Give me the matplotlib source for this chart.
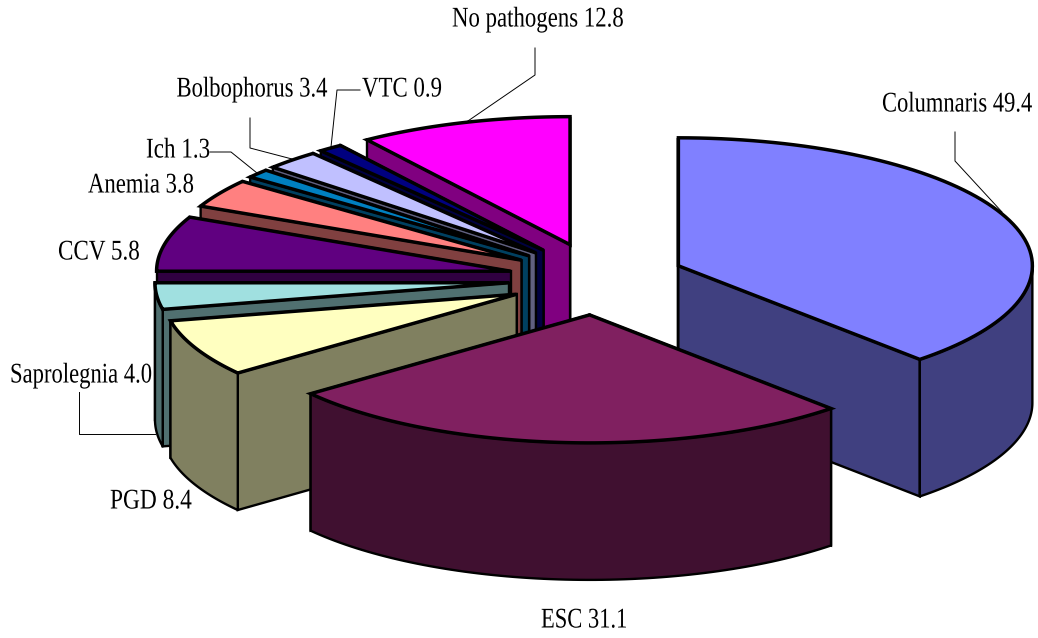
import numpy as np
import matplotlib
matplotlib.use("Agg")
import matplotlib.pyplot as plt
from matplotlib.patches import Polygon
from matplotlib.patheffects import AbstractPathEffect
from matplotlib.transforms import Affine2D

# Slices, clockwise from 12 o'clock
categories = ['Columnaris', 'ESC', 'PGD', 'Saprolegnia', 'CCV', 'Anemia', 'Ich',
              'Bolbophorus', 'VTC', 'No pathogens']
values = ['49.4', '31.1', '8.4', '4.0', '5.8', '3.8', '1.3', '3.4', '0.9', '12.8']
# Sweep of each slice in degrees as drawn in the picture (they do not follow the labels exactly)
sweeps = [137.0, 95.0, 26.0, 12.0, 25.0, 13.0, 4.0, 9.0, 4.0, 35.0]
top_colors = ['#8080FF', '#802060', '#FFFFC0', '#A0E0E0', '#600080', '#FF8080',
              '#0080C0', '#C0C0FF', '#000080', '#FF00FF']
side_colors = ['#404080', '#401030', '#808060', '#507070', '#300040', '#804040',
               '#004060', '#606080', '#000040', '#800080']

# Label anchor x, centre y, alignment, and the width the text should take
label_x = [1032, 584, 151, 10, 99, 141, 178, 252, 402, 538]
label_y = [105, 621, 502, 376, 253, 186, 151, 90, 90, 20]
label_ha = ['right', 'center', 'center', 'left', 'center', 'center', 'center', 'center', 'center', 'center']
label_w = [150, 86, 82, 142, 82, 106, 64, 151, 80, 172]

# Leader lines
leaders = [
    ([955, 955, 1002], [132, 161, 212]),
    ([535, 535, 465], [48, 75, 123]),
    ([250, 250, 292], [118, 148, 159]),
    ([360, 337, 331], [90, 90, 147]),
    ([210, 231, 257], [152, 152, 173]),
    ([79, 79, 155], [392, 434, 434]),
]

# Ellipse of the pie
cx, cy = 596.5, 279
rx, ry = 354, 128
explode_x, explode_y = 88, 36
depth = 137


class Squeeze(AbstractPathEffect):
    # the chart's text is set very tight, so narrow it around its anchor
    def __init__(self, factor, anchor):
        super().__init__()
        self.factor = factor
        self.anchor = anchor

    def draw_path(self, renderer, gc, tpath, affine, rgbFace=None):
        narrow = Affine2D().translate(-self.anchor, 0).scale(self.factor, 1).translate(self.anchor, 0)
        renderer.draw_path(gc, tpath, affine + narrow, rgbFace)


def rim(apex, a1, a2):
    t = np.radians(np.linspace(a1, a2, 80))
    return np.column_stack([apex[0] + rx * np.sin(t), apex[1] - ry * np.cos(t)])


fig = plt.figure(figsize=(10.38, 6.38), dpi=100)
ax = fig.add_axes([0, 0, 1, 1])
ax.set_xlim(0, 1038)
ax.set_ylim(638, 0)
ax.axis('off')

ends = np.cumsum(sweeps)
starts = ends - np.array(sweeps)
mids = np.radians((starts + ends) / 2)
apex_x = cx + explode_x * np.sin(mids)
apex_y = cy - explode_y * np.cos(mids)

# Paint from the back of the pie to the front
z = 2
for i in np.argsort(apex_y):
    apex = (apex_x[i], apex_y[i])
    down = np.array([0, depth])

    # Radial walls, the one further back first
    walls = []
    for a in (starts[i], ends[i]):
        p = rim(apex, a, a)[0]
        walls.append(np.array([apex, p, p + down, np.array(apex) + down]))
    walls.sort(key=lambda w: w[:, 1].mean())
    for w in walls:
        ax.add_patch(Polygon(w, closed=True, fc=side_colors[i], ec='black', lw=1.7,
                             joinstyle='miter', zorder=z))
        z += 1

    # Outer wall, only where it faces the viewer
    a1, a2 = max(starts[i], 90), min(ends[i], 270)
    if a2 > a1:
        arc = rim(apex, a1, a2)
        ax.add_patch(Polygon(np.vstack([arc, (arc + down)[::-1]]), closed=True,
                             fc=side_colors[i], ec='black', lw=1.7, joinstyle='round', zorder=z))
        z += 1

    # Top face
    arc = rim(apex, starts[i], ends[i])
    ax.add_patch(Polygon(np.vstack([[apex], arc]), closed=True, fc=top_colors[i], ec='black',
                         lw=2.5, joinstyle='miter', zorder=z))
    z += 1

for xs, ys in leaders:
    ax.plot(xs, ys, color='black', lw=0.7, zorder=1)

for name, val, x, y, ha, w in zip(categories, values, label_x, label_y, label_ha, label_w):
    t = ax.text(x, y, name + ' ' + val, family='Liberation Serif', fontsize=20.5,
                color='black', ha=ha, va='center', zorder=z)
    natural = t.get_window_extent(fig.canvas.get_renderer()).width
    t.set_path_effects([Squeeze(w / natural, x)])

fig.savefig('out.png', dpi=100)
